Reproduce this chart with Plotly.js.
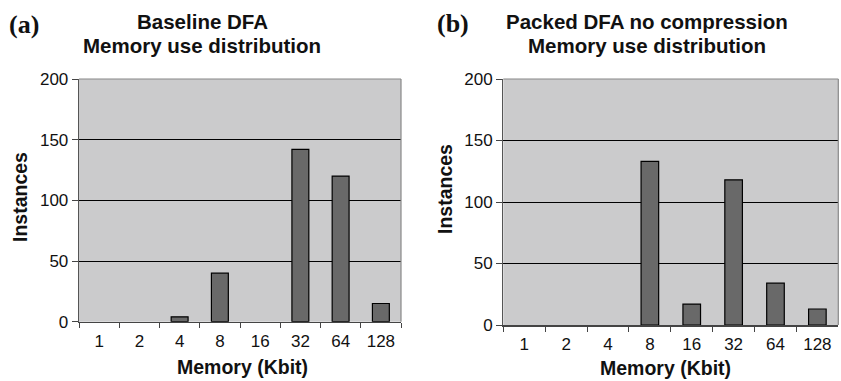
<!DOCTYPE html>
<html>
<head>
<meta charset="utf-8">
<script src="https://cdn.plot.ly/plotly-3.0.1.min.js"></script>
<style>html,body{margin:0;padding:0;background:#fff;}#chart{width:841px;height:381px;}</style>
</head>
<body>
<div id="chart"></div>
<script>
const categories = ["1", "2", "4", "8", "16", "32", "64", "128"];
const baselineValues = [0, 0, 4, 40, 0, 142, 120, 15];
const packedValues = [0, 0, 0, 133, 17, 118, 34, 13];
const yTicks = [0, 50, 100, 150, 200];
const panelLabels = ["(a)", "(b)"];
const titleLine1 = ["Baseline DFA", "Packed DFA no compression"];
const titleLine2 = "Memory use distribution";
const xTitle = "Memory (Kbit)";
const yTitle = "Instances";

const W = 841, H = 381;
const px = v => v / W;
const py = v => 1 - v / H;

function barStyle(vals) {
  return {color: "#696969", line: {color: "#000", width: vals.map(v => v > 0 ? 1.2 : 0)}};
}
const traces = [
  {type: "bar", x: categories, y: baselineValues, xaxis: "x", yaxis: "y", marker: barStyle(baselineValues), hoverinfo: "none"},
  {type: "bar", x: categories, y: packedValues, xaxis: "x2", yaxis: "y2", marker: barStyle(packedValues), hoverinfo: "none"}
];

const SANS = "Liberation Sans";
const tickFont = {family: SANS, size: 17, color: "#111"};
function xax(domain, anchor) {
  return {domain: domain, anchor: anchor, type: "category", categoryorder: "array", categoryarray: categories,
    showline: true, linecolor: "#444", linewidth: 1.5, ticks: "outside", tickson: "boundaries", ticklen: 5,
    tickcolor: "#444", showgrid: false, tickfont: tickFont, ticklabelstandoff: 3, fixedrange: true};
}
function yax(domain, anchor) {
  return {domain: domain, anchor: anchor, range: [0, 200], tickvals: yTicks, ticktext: yTicks.map(String),
    showline: true, linecolor: "#555", linewidth: 1.3, ticks: "outside", ticklen: 6, tickcolor: "#444",
    showgrid: true, gridcolor: "#000", gridwidth: 1, zeroline: false, tickfont: tickFont, fixedrange: true};
}

const titleFont = {family: SANS, size: 20.5, color: "#111"};
const axTitleFont = {family: SANS, size: 19.5, color: "#111"};
const labelFont = {family: "Liberation Serif", size: 26, color: "#111"};

function ann(text, x, y, font, extra) {
  return Object.assign({text: text, xref: "paper", yref: "paper", x: px(x), y: py(y), xanchor: "center", yanchor: "middle", showarrow: false, font: font}, extra || {});
}

const annotations = [
  ann("<b>" + panelLabels[0] + "</b>", 24, 25, labelFont),
  ann("<b>" + panelLabels[1] + "</b>", 453, 23, labelFont),
  ann("<b>" + titleLine1[0] + "</b>", 202, 22, titleFont),
  ann("<b>" + titleLine2 + "</b>", 202, 45, titleFont),
  ann("<b>" + titleLine1[1] + "</b>", 647, 21, titleFont),
  ann("<b>" + titleLine2 + "</b>", 647, 45, titleFont),
  ann("<b>" + yTitle + "</b>", 20, 197, axTitleFont, {textangle: -90}),
  ann("<b>" + yTitle + "</b>", 445, 189, axTitleFont, {textangle: -90}),
  ann("<b>" + xTitle + "</b>", 242, 367, axTitleFont),
  ann("<b>" + xTitle + "</b>", 665, 368, axTitleFont)
];

function frame(xa, ya) {
  const ln = {color: "#888", width: 1.2};
  return [
    {type: "line", xref: xa + " domain", yref: ya + " domain", x0: 0, x1: 1, y0: 1, y1: 1, line: ln, layer: "above"},
    {type: "line", xref: xa + " domain", yref: ya + " domain", x0: 1, x1: 1, y0: 0, y1: 1, line: ln, layer: "above"}
  ];
}

const layout = {
  width: W, height: H, margin: {l: 0, r: 0, t: 0, b: 0},
  paper_bgcolor: "#fff", plot_bgcolor: "#cbcbcc",
  showlegend: false, bargap: 0.58,
  xaxis: xax([px(79), px(401)], "y"),
  yaxis: yax([1 - 321.7 / H, 1 - 79 / H], "x"),
  xaxis2: xax([px(503.3), px(838.3)], "y2"),
  yaxis2: yax([1 - 325 / H, 1 - 79 / H], "x2"),
  annotations: annotations,
  shapes: frame("x", "y").concat(frame("x2", "y2"))
};

Plotly.newPlot("chart", traces, layout, {staticPlot: true, displayModeBar: false});
</script>
</body>
</html>
